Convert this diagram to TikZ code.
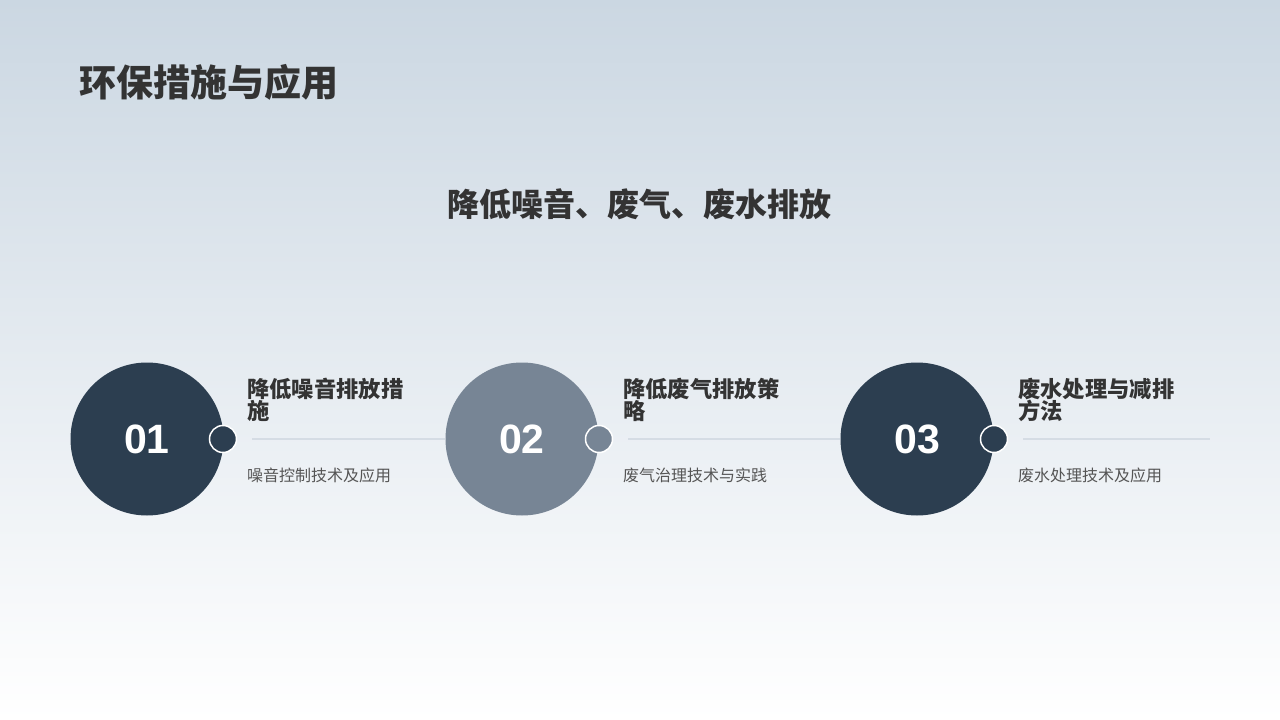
\documentclass[tikz,border=0pt]{standalone}
\usepackage{fontspec}
\setmainfont{Liberation Sans}
\newfontfamily\cjk{Noto Sans CJK SC}
\usetikzlibrary{positioning}

\definecolor{darkslate}{HTML}{2C3E50}
\definecolor{greyslate}{HTML}{778595}
\definecolor{ink}{HTML}{333333}
\definecolor{subink}{HTML}{555555}
\definecolor{rulegrey}{HTML}{D5DCE4}
\definecolor{bgtop}{HTML}{CBD7E2}

\tikzstyle{disc} =[shape=circle,minimum size=153pt,inner sep=0pt,
text=white,font=\bfseries\fontsize{41}{41}\selectfont]
\tikzstyle{knob} =[shape=circle,minimum size=27pt,inner sep=0pt,
draw=white,line width=1.5pt]
\tikzstyle{head} =[anchor=north west,align=left,inner sep=0pt,text=ink,
font=\cjk\bfseries\fontsize{22.3}{22.3}\selectfont]
\tikzstyle{note} =[anchor=west,inner sep=0pt,text=subink,
font=\cjk\fontsize{16}{16}\selectfont]
\tikzstyle{rulebar} =[draw=rulegrey,line width=2pt]

\begin{document}
\begin{tikzpicture}[x=1pt,y=-1pt]
\shade[top color=bgtop,bottom color=white] (0,0) rectangle (1280,720);
\useasboundingbox (0,0) rectangle (1280,720);

\node[anchor=west,inner sep=0pt,text=ink,
	font=\cjk\bfseries\fontsize{37}{37}\selectfont] (title) at (79,82) {环保措施与应用};
\node[inner sep=0pt,text=ink,
	font=\cjk\bfseries\fontsize{32}{32}\selectfont] (subtitle) at (639,204) {降低噪音、废气、废水排放};

% first item
\node[disc,fill=darkslate] (c1) at (147,439) {01};
\node[knob,fill=darkslate] (k1) at (223,439) {};
\node[head] (h1) at (247,378) {降低噪音排放措\\施};
\node[note] (n1) at (247,475) {噪音控制技术及应用};

% second item
\node[disc,fill=greyslate] (c2) at (522,439) {02};
\node[knob,fill=greyslate] (k2) at (599,439) {};
\node[head] (h2) at (623,378) {降低废气排放策\\略};
\node[note] (n2) at (623,475) {废气治理技术与实践};

% third item
\node[disc,fill=darkslate] (c3) at (917,439) {03};
\node[knob,fill=darkslate] (k3) at (994,439) {};
\node[head] (h3) at (1018,378) {废水处理与减排\\方法};
\node[note] (n3) at (1018,475) {废水处理技术及应用};
\coordinate (r3) at (1210,439);

\draw[rulebar] ([xshift=15pt]k1.east) -- (c2.west);
\draw[rulebar] ([xshift=15pt]k2.east) -- (c3.west);
\draw[rulebar] ([xshift=15pt]k3.east) -- (r3);
\end{tikzpicture}
\end{document}
